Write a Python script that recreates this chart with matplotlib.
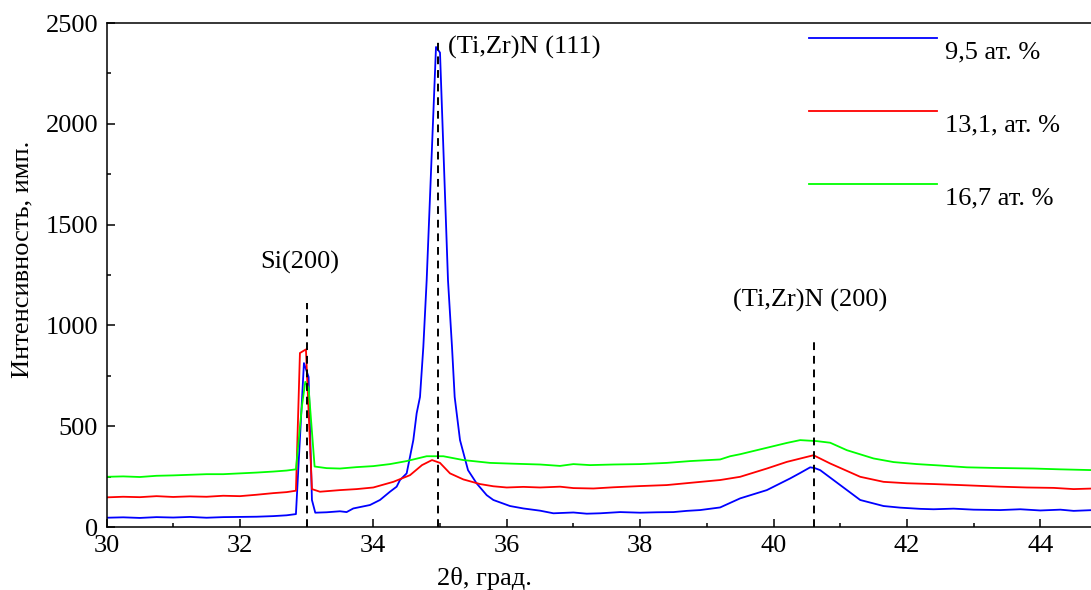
import matplotlib
matplotlib.use('Agg')
import matplotlib.pyplot as plt
from matplotlib.ticker import MultipleLocator

plt.rcParams['font.family'] = ['Liberation Serif', 'DejaVu Serif']

# 2theta, intensity for each film
x_95 = [30.0, 30.25, 30.5, 30.75, 31.0, 31.25, 31.5, 31.75, 32.0, 32.25, 32.5, 32.7,
        32.84, 32.96, 33.03, 33.08, 33.13, 33.3, 33.5, 33.6, 33.7, 33.95, 34.1, 34.25,
        34.35, 34.4, 34.5, 34.55, 34.6, 34.65, 34.7, 34.75, 34.8, 34.94, 35.0, 35.12,
        35.18, 35.22, 35.3, 35.42, 35.55, 35.7, 35.8, 36.05, 36.25, 36.5, 36.7, 37.0,
        37.2, 37.4, 37.7, 38.0, 38.25, 38.5, 38.7, 38.9, 39.2, 39.5, 39.9, 40.25, 40.4,
        40.55, 40.62, 40.7, 41.0, 41.3, 41.65, 41.9, 42.2, 42.4, 42.7, 43.0, 43.4, 43.7,
        44.0, 44.3, 44.5, 44.8]
y_95 = [46, 48, 45, 49, 47, 50, 46, 49, 50, 51, 54, 58,
        64, 813, 744, 134, 71, 73, 78, 74, 92, 109, 134, 175,
        200, 233, 266, 348, 431, 564, 645, 893, 1223, 2381, 2353, 1223,
        893, 645, 431, 282, 216, 158, 134, 104, 92, 81, 68, 72,
        66, 68, 74, 71, 73, 74, 80, 84, 97, 142, 183, 241, 268,
        296, 292, 282, 208, 134, 104, 96, 90, 88, 91, 86, 84, 88,
        82, 86, 80, 84]

x_131 = [30.0, 30.25, 30.5, 30.75, 31.0, 31.25, 31.5, 31.75, 32.0, 32.25, 32.5, 32.7,
         32.84, 32.9, 32.99, 33.08, 33.2, 33.5, 33.75, 34.0, 34.3, 34.55, 34.73, 34.88,
         35.0, 35.15, 35.35, 35.6, 35.8, 36.0, 36.25, 36.5, 36.8, 37.0, 37.3, 37.6, 38.0,
         38.4, 38.75, 39.2, 39.5, 39.9, 40.2, 40.6, 40.85, 41.3, 41.65, 42.0, 42.4, 42.8,
         43.1, 43.4, 43.8, 44.2, 44.5, 44.8]
y_131 = [147, 150, 148, 153, 149, 152, 150, 155, 153, 160, 168, 173,
         180, 863, 881, 188, 175, 183, 188, 196, 224, 257, 307, 332,
         318, 266, 236, 213, 202, 196, 199, 196, 200, 193, 191, 197, 203,
         208, 219, 233, 249, 290, 323, 356, 315, 249, 224, 217, 213, 208,
         204, 200, 196, 194, 188, 191]

x_167 = [30.0, 30.25, 30.5, 30.75, 31.0, 31.25, 31.5, 31.75, 32.0, 32.25, 32.5, 32.7,
         32.84, 32.93, 32.98, 33.03, 33.12, 33.3, 33.5, 33.75, 34.0, 34.25, 34.5, 34.8,
         35.05, 35.35, 35.75, 36.1, 36.5, 36.8, 37.0, 37.25, 37.6, 38.0, 38.4, 38.75,
         39.2, 39.35, 39.5, 39.8, 40.2, 40.4, 40.65, 40.85, 41.1, 41.5, 41.8, 42.15, 42.5,
         42.9, 43.3, 43.9, 44.3, 44.8]
y_167 = [249, 251, 248, 254, 256, 259, 262, 262, 266, 270, 275, 280,
         286, 600, 720, 690, 300, 292, 290, 297, 302, 312, 327, 351,
         351, 332, 318, 314, 310, 303, 312, 307, 310, 312, 318, 327,
         335, 351, 361, 385, 417, 431, 426, 418, 381, 340, 322, 312, 305,
         296, 293, 290, 286, 282]

labels = ['9,5 ат. %', '13,1, ат. %', '16,7 ат. %']
colors = ['#0000ff', '#ff0000', '#00ff00']

# reflex positions: x, top of dashed line
peak_x = [33.0, 34.97, 40.6]
peak_top = [1110, 2430, 940]

fig = plt.figure(figsize=(10.91, 5.90), dpi=100)
ax = fig.add_axes([106.5 / 1091, 63 / 590, 1000.5 / 1091, 504 / 590])

for xs, ys, c in zip([x_95, x_131, x_167], [y_95, y_131, y_167], colors):
    ax.plot(xs, ys, color=c, lw=1.3)

for px, pt in zip(peak_x, peak_top):
    ax.plot([px, px], [0, pt], color='k', lw=1.4, ls=(0, (4, 3)))

fs = 19
ax.text(32.9, 1312, 'Si(200)', ha='center', va='center', fontsize=fs)
ax.text(35.12, 2381, '(Ti,Zr)N (111)', ha='left', va='center', fontsize=fs)
ax.text(40.55, 1124, '(Ti,Zr)N (200)', ha='center', va='center', fontsize=fs)

# legend drawn like the original (text sits below the line)
for i, (lab, c) in enumerate(zip(labels, colors)):
    ly = 1 - (38 + 73 * i - 23) / 504
    ax.plot([(809 - 106.5) / 1000.5, (937 - 106.5) / 1000.5], [ly, ly],
            color=c, lw=1.3, transform=ax.transAxes, clip_on=False)
    ax.text((945 - 106.5) / 1000.5, ly - 14 / 504, lab, transform=ax.transAxes,
            ha='left', va='center', fontsize=fs)

ax.set_xlim(30, 45)
ax.set_ylim(0, 2500)
ax.xaxis.set_major_locator(MultipleLocator(2))
ax.xaxis.set_minor_locator(MultipleLocator(1))
ax.yaxis.set_major_locator(MultipleLocator(500))
ax.yaxis.set_minor_locator(MultipleLocator(250))
ax.tick_params(which='both', direction='in', labelsize=fs, width=1.1)
ax.tick_params(which='major', length=6, pad=6)
ax.tick_params(which='minor', length=3)
for s in ax.spines.values():
    s.set_linewidth(1.1)

ax.set_xlabel('2θ, град.', fontsize=fs, va='center')
ax.xaxis.set_label_coords((484 - 106.5) / 1000.5, -(578 - 527) / 504)
ax.set_ylabel('Интенсивность, имп.', fontsize=fs, va='center')
ax.yaxis.set_label_coords(-(106.5 - 22) / 1000.5, (527 - 259) / 504)

fig.savefig('out.png', dpi=100)
